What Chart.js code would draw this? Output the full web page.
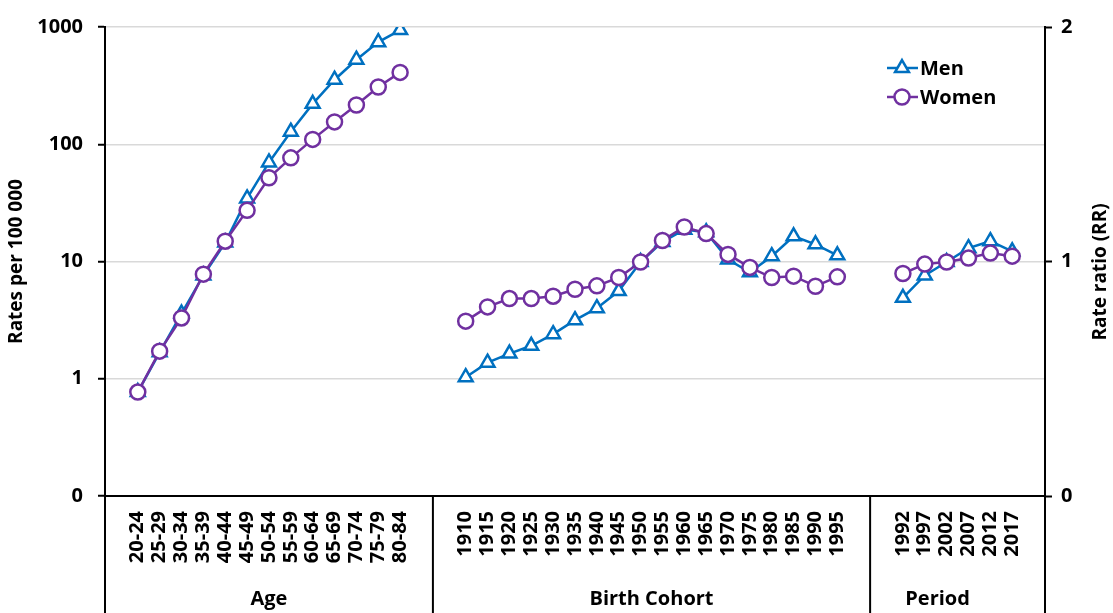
<!DOCTYPE html>
<html>
<head>
<meta charset="utf-8">
<script src="https://cdn.jsdelivr.net/npm/chart.js@4.4.7/dist/chart.umd.min.js"></script>
<style>
  html, body { margin: 0; padding: 0; background: #fff; }
  #wrap { width: 1113px; height: 613px; position: relative; }
</style>
</head>
<body>
<div id="wrap"><canvas id="chart"></canvas></div>
<script>
// Categories
const ageLabels = ['20-24','25-29','30-34','35-39','40-44','45-49','50-54','55-59','60-64','65-69','70-74','75-79','80-84'];
const cohortLabels = ['1910','1915','1920','1925','1930','1935','1940','1945','1950','1955','1960','1965','1970','1975','1980','1985','1990','1995'];
const periodLabels = ['1992','1997','2002','2007','2012','2017'];
const groupNames = ['Age', 'Birth Cohort', 'Period'];

// Values (rates per 100 000)
const menAge = [0.77, 1.68, 3.6, 7.6, 14.5, 34.5, 70, 128, 221, 355, 526, 743, 941];
const womenAge = [0.77, 1.72, 3.3, 7.8, 14.9, 27.3, 51.8, 76.6, 110, 155, 216, 308, 410];
const menCohort = [1.03, 1.37, 1.64, 1.91, 2.4, 3.16, 4.0, 5.6, 9.9, 14.7, 18.7, 17.8, 10.4, 8.1, 11.1, 16.4, 14.0, 11.3];
const womenCohort = [3.1, 4.1, 4.83, 4.83, 5.06, 5.8, 6.2, 7.3, 9.9, 15.1, 19.7, 17.3, 11.5, 8.9, 7.3, 7.5, 6.15, 7.4];
const menPeriod = [4.9, 7.6, 9.9, 13.0, 14.9, 12.2];
const womenPeriod = [7.9, 9.5, 9.9, 10.7, 11.8, 11.1];

// Tick labels
const leftTicks = [0.1, 1, 10, 100, 1000];
const rightTicks = [0, 1, 2];

const MEN = '#0070C0';
const WOMEN = '#7030A0';
const FONT = '"Open Sans", "Liberation Sans", sans-serif';

// one empty slot at each end, two empty slots between the groups
const gap2 = ['', ''];
const labels = [''].concat(ageLabels, gap2, cohortLabels, gap2, periodLabels, ['']);
const build = (a, c, p) => [null].concat(a, [null, null], c, [null, null], p, [null]);
const menData = build(menAge, menCohort, menPeriod);
const womenData = build(womenAge, womenCohort, womenPeriod);

// index ranges of the groups inside labels
const ageStart = 1, ageEnd = ageStart + ageLabels.length - 1;
const cohStart = ageEnd + 3, cohEnd = cohStart + cohortLabels.length - 1;
const perStart = cohEnd + 3, perEnd = perStart + periodLabels.length - 1;

const decorPlugin = {
    id: 'decor',
    afterDraw(chart) {
        const ctx = chart.ctx;
        const xs = chart.scales.x;
        const area = chart.chartArea;
        const H = chart.height;
        const mid = (i) => (xs.getPixelForTick(i) + xs.getPixelForTick(i + 1)) / 2;
        const sep1 = mid(ageEnd + 1);
        const sep2 = mid(cohEnd + 1);

        ctx.save();
        ctx.strokeStyle = '#000';
        ctx.lineWidth = 2;
        [area.left, sep1, sep2, area.right].forEach(x => {
            ctx.beginPath();
            ctx.moveTo(x, area.bottom);
            ctx.lineTo(x, H);
            ctx.stroke();
        });

        // group names under the tick labels
        ctx.fillStyle = '#000';
        ctx.font = 'bold 20px ' + FONT;
        ctx.textAlign = 'center';
        ctx.textBaseline = 'middle';
        const c1 = (xs.getPixelForTick(ageStart) + xs.getPixelForTick(ageEnd)) / 2;
        const c2 = (xs.getPixelForTick(cohStart) + xs.getPixelForTick(cohEnd)) / 2;
        const c3 = (xs.getPixelForTick(perStart) + xs.getPixelForTick(perEnd)) / 2 - 20;
        ctx.fillText(groupNames[0], c1, 599);
        ctx.fillText(groupNames[1], c2, 599);
        ctx.fillText(groupNames[2], c3, 599);

        // right axis title, reading upwards like the left one
        ctx.save();
        ctx.translate(1101, 272);
        ctx.rotate(-Math.PI / 2);
        ctx.font = 'bold 19px ' + FONT;
        ctx.fillText('Rate ratio (RR)', 0, 0);
        ctx.restore();

        // legend, top right inside the plot
        const items = [
            { text: 'Men', color: MEN, style: 'triangle', r: 8, y: 68 },
            { text: 'Women', color: WOMEN, style: 'circle', r: 7.5, y: 97 }
        ];
        ctx.font = 'bold 20px ' + FONT;
        items.forEach(it => {
            ctx.strokeStyle = it.color;
            ctx.lineWidth = 2.5;
            ctx.beginPath();
            ctx.moveTo(887, it.y);
            ctx.lineTo(918, it.y);
            ctx.stroke();
            ctx.fillStyle = '#fff';
            Chart.helpers.drawPoint(ctx, {
                pointStyle: it.style, radius: it.r, rotation: 0, borderWidth: 2.5
            }, 902, it.y);
            ctx.fillStyle = '#000';
            ctx.textAlign = 'left';
            ctx.fillText(it.text, 920, it.y + 1);
        });
        ctx.restore();
    }
};

new Chart(document.getElementById('chart'), {
    type: 'line',
    data: {
        labels: labels,
        datasets: [{
            label: 'Men',
            data: menData,
            borderColor: MEN,
            backgroundColor: '#fff',
            borderWidth: 2.5,
            pointStyle: 'triangle',
            pointRadius: 8,
            pointBorderWidth: 2.5,
            pointBackgroundColor: '#fff',
            pointBorderColor: MEN,
            spanGaps: false,
            tension: 0,
            order: 1
        }, {
            label: 'Women',
            data: womenData,
            borderColor: WOMEN,
            backgroundColor: '#fff',
            borderWidth: 2.5,
            pointStyle: 'circle',
            pointRadius: 7.5,
            pointBorderWidth: 2.5,
            pointBackgroundColor: '#fff',
            pointBorderColor: WOMEN,
            spanGaps: false,
            tension: 0,
            order: 0
        }]
    },
    options: {
        responsive: true,
        maintainAspectRatio: false,
        animation: false,
        devicePixelRatio: 1,
        layout: { padding: { top: 26, left: 0, right: 0, bottom: 0 } },
        plugins: {
            legend: { display: false },
            tooltip: { enabled: false }
        },
        scales: {
            x: {
                type: 'category',
                offset: true,
                grid: { display: false, drawTicks: false },
                border: { color: '#000', width: 2 },
                ticks: {
                    autoSkip: false, maxRotation: 90, minRotation: 90, padding: 15,
                    color: '#000', font: { family: FONT, size: 20, weight: 'bold' }
                },
                afterFit: s => { s.height = 117; }
            },
            y: {
                type: 'logarithmic',
                position: 'left',
                min: 0.1,
                max: 1000,
                afterBuildTicks: s => { s.ticks = leftTicks.map(v => ({ value: v })); },
                ticks: {
                    padding: 15, color: '#000',
                    font: { family: FONT, size: 20, weight: 'bold' },
                    callback: v => (v < 0.5 ? '0' : String(v))
                },
                grid: { color: '#d9d9d9', lineWidth: 1.5, tickColor: '#000', tickLength: 7, tickWidth: 2 },
                border: { color: '#000', width: 2 },
                title: {
                    display: true, text: 'Rates per 100 000', color: '#000',
                    font: { family: FONT, size: 19, weight: 'bold' }, padding: { top: 5, bottom: 0 }
                },
                afterFit: s => { s.width = 105; }
            },
            y2: {
                type: 'linear',
                position: 'right',
                min: 0,
                max: 2,
                afterBuildTicks: s => { s.ticks = rightTicks.map(v => ({ value: v })); },
                ticks: { padding: 9, color: '#000', font: { family: FONT, size: 20, weight: 'bold' } },
                grid: { drawOnChartArea: false, tickColor: '#000', tickLength: 7, tickWidth: 2 },
                border: { color: '#000', width: 2 },
                afterFit: s => { s.width = 68; }
            }
        }
    },
    plugins: [decorPlugin]
});
</script>
</body>
</html>
